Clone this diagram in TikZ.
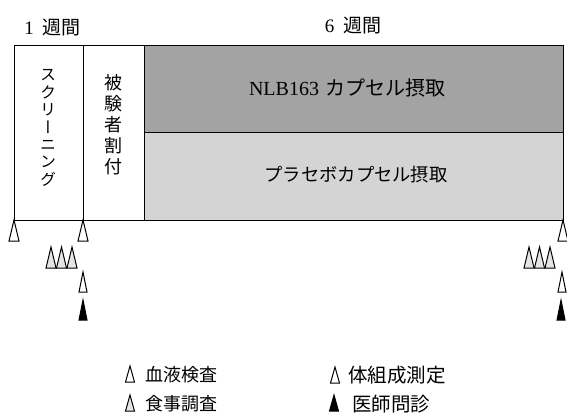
\documentclass[tikz,border=0pt]{standalone}
\usepackage{fontspec}
\setmainfont{Liberation Serif}
\newfontfamily\jp{Noto Sans CJK JP}
\newfontfamily\jpv[RawFeature=+vert]{Noto Sans CJK JP}
\newcommand{\mytri}[5]{\draw[#5] (#1,#2) -- ({#1-#3/2},{#2+#4}) -- ({#1+#3/2},{#2+#4}) -- cycle;}
\begin{document}
\begin{tikzpicture}[x=1pt,y=-1pt,
  every node/.style={inner sep=0pt, outer sep=0pt},
  boxline/.style={line width=0.9pt},
  drugfill/.style={fill=black!36},
  plcfill/.style={fill=black!17},
  opentri/.style={line width=1pt, fill=white, line join=miter},
  foodtri/.style={line width=1pt, fill=black!10, line join=miter},
  doctri/.style={line width=1pt, fill=black, line join=miter},
  hdr/.style={font=\fontsize{19}{19}\selectfont},
  legl/.style={anchor=west, font=\jp\fontsize{18}{18}\selectfont},
  legr/.style={anchor=west, font=\jp\fontsize{19.5}{19.5}\selectfont}]
\useasboundingbox (0,0) rectangle (567,416);
% header labels
\node[hdr] (w1) at (52.5,28) {1\hspace{9pt}{\jp 週間}};
\node[hdr] (w6) at (353,26) {6\hspace{9pt}{\jp 週間}};
% shaded regions
\fill[drugfill] (144,45) rectangle (563,132);
\fill[plcfill] (144,132) rectangle (563,220);
% outline and dividers
\draw[boxline] (14,45) rectangle (563,220);
\draw[boxline] (83,45) -- (83,220);
\draw[boxline] (144,45) -- (144,220);
\draw[boxline] (144,132) -- (563,132);
% texts in the box
\node[align=center, font=\jpv\fontsize{16}{17.4}\selectfont] (scr) at (48,128) {ス\\ク\\リ\\ー\\ニ\\ン\\グ};
\node[align=center, font=\jp\fontsize{18}{21}\selectfont] (rnd) at (113,125) {被\\験\\者\\割\\付};
\node[font=\fontsize{20}{20}\selectfont] (drug) at (347,88) {NLB163\hspace{6pt}{\jp カプセル摂取}};
\node[font=\jp\fontsize{18.3}{18.3}\selectfont] (plc) at (356,175) {プラセボカプセル摂取};
% blood test markers
\mytri{14}{220}{10}{21}{opentri}
\mytri{83}{220}{10}{21}{opentri}
\mytri{563}{220}{10}{21}{opentri}
% food survey markers
\mytri{51}{247}{10}{21}{foodtri}
\mytri{61.5}{247}{10}{21}{foodtri}
\mytri{72}{247}{10}{21}{foodtri}
\mytri{529}{247}{10}{21}{foodtri}
\mytri{539.5}{247}{10}{21}{foodtri}
\mytri{550}{247}{10}{21}{foodtri}
% body composition markers
\mytri{83}{272}{8}{20}{opentri}
\mytri{562}{272}{8}{20}{opentri}
% doctor interview markers
\mytri{83}{300}{8}{20}{doctri}
\mytri{561}{300}{8}{20}{doctri}
% legend
\mytri{130}{366}{9}{16}{opentri}
\node[legl] (lg1) at (145,375) {血液検査};
\mytri{130}{395}{9}{16}{foodtri}
\node[legl] (lg2) at (145,404) {食事調査};
\mytri{335}{367}{9}{16}{opentri}
\node[legr] (lg3) at (348,375) {体組成測定};
\mytri{334}{395}{9}{16}{doctri}
\node[legr] (lg4) at (352,404) {医師問診};
\end{tikzpicture}
\end{document}
